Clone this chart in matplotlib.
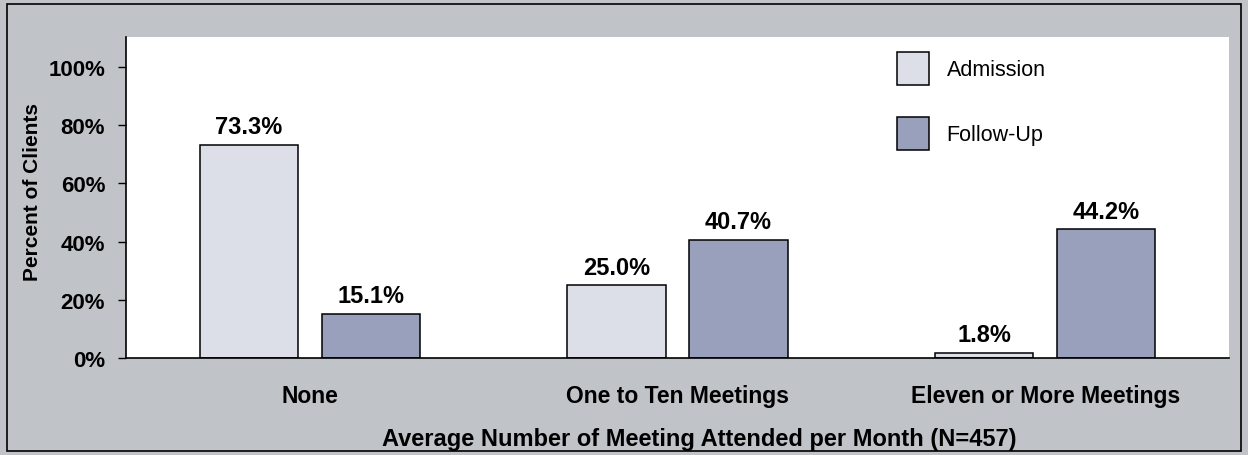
import numpy as np
import matplotlib.pyplot as plt
from matplotlib.patches import Rectangle

# Data
categories = ['None', 'One to Ten Meetings', 'Eleven or More Meetings']
admission = [73.3, 25.0, 1.8]
follow_up = [15.1, 40.7, 44.2]
yticks = [0, 20, 40, 60, 80, 100]

bg = '#C0C3C8'
c_adm = '#DCDEE8'
c_fu = '#98A0BC'

plt.rcParams['font.family'] = ['Liberation Sans', 'DejaVu Sans']

W, H = 1248, 456
fig = plt.figure(figsize=(W / 100, H / 100), dpi=100, facecolor=bg)
ax = fig.add_axes([126 / W, 1 - 359 / H, (1229 - 126) / W, (359 - 38) / H])
ax.set_facecolor('white')

# outer frame
fig.patches.append(Rectangle((7 / W, 4 / H), 1234 / W, 447 / H,
                             transform=fig.transFigure, fill=False,
                             edgecolor='black', linewidth=1.2))

x = np.arange(len(categories))
w = 0.267
b1 = ax.bar(x - 0.166, admission, w, color=c_adm, edgecolor='black', linewidth=1.1, label='Admission')
b2 = ax.bar(x + 0.166, follow_up, w, color=c_fu, edgecolor='black', linewidth=1.1, label='Follow-Up')

for bars, vals in ((b1, admission), (b2, follow_up)):
    for r, v in zip(bars, vals):
        ax.text(r.get_x() + r.get_width() / 2, v + 2.3, f'{v:.1f}%',
                ha='center', va='bottom', fontsize=17, fontweight='bold')

ax.set_xlim(-0.5, 2.5)
ax.set_ylim(0, 110.3)
ax.set_yticks(yticks)
ax.set_yticklabels([f'{t}%' for t in yticks], fontsize=16, fontweight='bold')
ax.set_xticks(x)
ax.set_xticklabels(categories, fontsize=16.5, fontweight='bold')
ax.tick_params(axis='x', length=0, pad=19)
ax.tick_params(axis='y', length=6, width=1, pad=9)

for s in ('top', 'right'):
    ax.spines[s].set_visible(False)
ax.spines['left'].set_linewidth(1.2)
ax.spines['bottom'].set_linewidth(1.2)

ax.set_ylabel('Percent of Clients', fontsize=15, fontweight='bold')
ax.yaxis.set_label_coords(-0.076, 0.52)
ax.set_xlabel('Average Number of Meeting Attended per Month (N=457)', fontsize=17,
              fontweight='bold')
ax.xaxis.set_label_coords(0.52, -0.215)

ax.legend(loc='upper left', bbox_to_anchor=(897 / W, 1 - 53 / H),
          bbox_transform=fig.transFigure, frameon=False, fontsize=15.5,
          handlelength=1.5, handleheight=2.0, labelspacing=1.47, handletextpad=0.8,
          borderaxespad=0, borderpad=0)

plt.savefig('out.png', dpi=100, facecolor=bg)
